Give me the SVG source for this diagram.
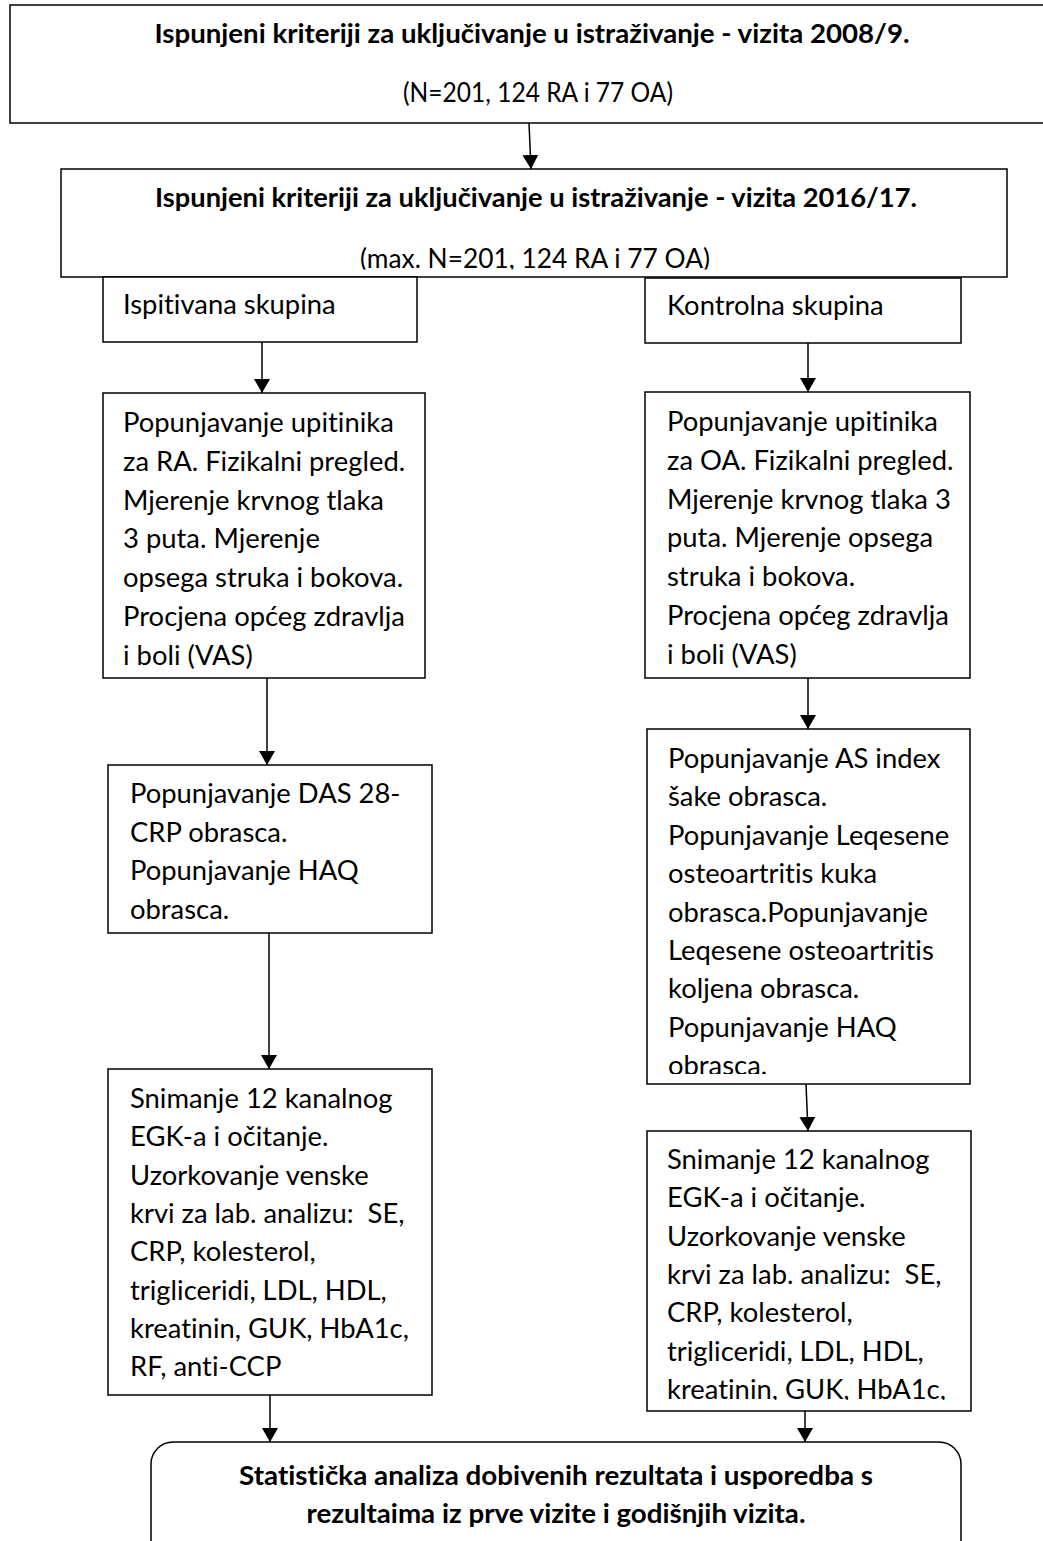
<svg xmlns="http://www.w3.org/2000/svg" width="1043" height="1541" viewBox="0 0 1043 1541">
<style>
  .box { fill: #fff; stroke: #000; stroke-width: 1.5; }
  .t { font-family: Lato, "Liberation Sans", sans-serif; font-size: 27.4px; fill: #000; font-variant-ligatures: none; font-feature-settings: "liga" 0, "clig" 0, "dlig" 0; white-space: pre; }
  .b { font-family: Lato, "Liberation Sans", sans-serif; font-size: 27px; font-weight: bold; fill: #000; font-variant-ligatures: none; font-feature-settings: "liga" 0, "clig" 0, "dlig" 0; }
  .c { text-anchor: middle; }
  .conn { stroke: #000; stroke-width: 1.5; fill: none; marker-end: url(#arr); }
</style>
<defs>
  <marker id="arr" markerUnits="userSpaceOnUse" markerWidth="16" markerHeight="16" refX="14" refY="8" orient="auto">
    <path d="M0,0 L14,8 L0,16 z" fill="#000"/>
  </marker>
  <clipPath id="clipB2"><rect x="61" y="169" width="946" height="100.5"/></clipPath>
  <clipPath id="clipAS"><rect x="647" y="729" width="323" height="345"/></clipPath>
  <clipPath id="clipER"><rect x="647" y="1131" width="325" height="269"/></clipPath>
</defs>
<rect width="1043" height="1541" fill="#fff"/>

<g id="connectors">
  <line class="conn" x1="529" y1="123" x2="531" y2="169"/>
  <line class="conn" x1="262" y1="342" x2="262" y2="393"/>
  <line class="conn" x1="808" y1="343" x2="808" y2="392"/>
  <line class="conn" x1="267" y1="678" x2="267" y2="765"/>
  <line class="conn" x1="808" y1="678" x2="808" y2="729"/>
  <line class="conn" x1="269" y1="933" x2="269" y2="1069"/>
  <line class="conn" x1="806" y1="1084" x2="808" y2="1131"/>
  <line class="conn" x1="270" y1="1395" x2="270" y2="1442"/>
  <line class="conn" x1="805" y1="1411" x2="805" y2="1442"/>
</g>

<g id="visit2008">
  <rect class="box" x="10" y="5" width="1045" height="118"/>
  <text class="b c" x="532" y="43" textLength="755" lengthAdjust="spacingAndGlyphs">Ispunjeni kriteriji za uključivanje u istraživanje - vizita 2008/9.</text>
  <text class="t c" x="538" y="102" textLength="270" lengthAdjust="spacingAndGlyphs">(N=201, 124 RA i 77 OA)</text>
</g>

<g id="visit2016">
  <rect class="box" x="61" y="169" width="946" height="108"/>
  <text class="b c" x="536" y="207" textLength="762" lengthAdjust="spacingAndGlyphs">Ispunjeni kriteriji za uključivanje u istraživanje - vizita 2016/17.</text>
  <g clip-path="url(#clipB2)">
    <text class="t c" x="535" y="268" textLength="350" lengthAdjust="spacingAndGlyphs">(max. N=201, 124 RA i 77 OA)</text>
  </g>
</g>

<g id="ispitivana">
  <rect class="box" x="103" y="277" width="314" height="65"/>
  <text class="t" x="123" y="314">Ispitivana skupina</text>
</g>

<g id="kontrolna">
  <rect class="box" x="645" y="278" width="316" height="65"/>
  <text class="t" x="667" y="315">Kontrolna skupina</text>
</g>

<g id="ra-pregled">
  <rect class="box" x="103" y="393" width="322" height="285"/>
  <text class="t" x="123" y="432">Popunjavanje upitinika</text>
  <text class="t" x="123" y="470.8">za RA. Fizikalni pregled.</text>
  <text class="t" x="123" y="509.6">Mjerenje krvnog tlaka</text>
  <text class="t" x="123" y="548.4">3 puta. Mjerenje</text>
  <text class="t" x="123" y="587.2">opsega struka i bokova.</text>
  <text class="t" x="123" y="626">Procjena općeg zdravlja</text>
  <text class="t" x="123" y="664.8">i boli (VAS)</text>
</g>

<g id="oa-pregled">
  <rect class="box" x="645" y="392" width="325" height="286"/>
  <text class="t" x="667" y="431">Popunjavanje upitinika</text>
  <text class="t" x="667" y="469.8">za OA. Fizikalni pregled.</text>
  <text class="t" x="667" y="508.6">Mjerenje krvnog tlaka 3</text>
  <text class="t" x="667" y="547.4">puta. Mjerenje opsega</text>
  <text class="t" x="667" y="586.2">struka i bokova.</text>
  <text class="t" x="667" y="625">Procjena općeg zdravlja</text>
  <text class="t" x="667" y="663.8">i boli (VAS)</text>
</g>

<g id="das28">
  <rect class="box" x="108" y="765" width="324" height="168"/>
  <text class="t" x="130" y="803">Popunjavanje DAS 28-</text>
  <text class="t" x="130" y="841.5">CRP obrasca.</text>
  <text class="t" x="130" y="880">Popunjavanje HAQ</text>
  <text class="t" x="130" y="918.5">obrasca.</text>
</g>

<g id="as-index">
  <rect class="box" x="647" y="729" width="323" height="355"/>
  <g clip-path="url(#clipAS)">
    <text class="t" x="668" y="768">Popunjavanje AS index</text>
    <text class="t" x="668" y="806.4">šake obrasca.</text>
    <text class="t" x="668" y="844.8">Popunjavanje Leqesene</text>
    <text class="t" x="668" y="883.2">osteoartritis kuka</text>
    <text class="t" x="668" y="921.6">obrasca.Popunjavanje</text>
    <text class="t" x="668" y="960">Leqesene osteoartritis</text>
    <text class="t" x="668" y="998.4">koljena obrasca.</text>
    <text class="t" x="668" y="1036.8">Popunjavanje HAQ</text>
    <text class="t" x="668" y="1075.2">obrasca.</text>
  </g>
</g>

<g id="egk-ra">
  <rect class="box" x="108" y="1069" width="324" height="326"/>
  <text class="t" x="130" y="1108">Snimanje 12 kanalnog</text>
  <text class="t" x="130" y="1146.3">EGK-a i očitanje.</text>
  <text class="t" x="130" y="1184.6">Uzorkovanje venske</text>
  <text class="t" x="130" y="1222.9" xml:space="preserve">krvi za lab. analizu:  SE,</text>
  <text class="t" x="130" y="1261.2">CRP, kolesterol,</text>
  <text class="t" x="130" y="1299.5">trigliceridi, LDL, HDL,</text>
  <text class="t" x="130" y="1337.8">kreatinin, GUK, HbA1c,</text>
  <text class="t" x="130" y="1376.1">RF, anti-CCP</text>
</g>

<g id="egk-oa">
  <rect class="box" x="647" y="1131" width="324" height="280"/>
  <g clip-path="url(#clipER)">
    <text class="t" x="667" y="1169">Snimanje 12 kanalnog</text>
    <text class="t" x="667" y="1207.3">EGK-a i očitanje.</text>
    <text class="t" x="667" y="1245.6">Uzorkovanje venske</text>
    <text class="t" x="667" y="1283.9" xml:space="preserve">krvi za lab. analizu:  SE,</text>
    <text class="t" x="667" y="1322.2">CRP, kolesterol,</text>
    <text class="t" x="667" y="1360.5">trigliceridi, LDL, HDL,</text>
    <text class="t" x="667" y="1398.8">kreatinin, GUK, HbA1c,</text>
  </g>
</g>

<g id="statistika">
  <rect class="box" x="151" y="1442" width="810" height="140" rx="22" ry="22"/>
  <text class="b c" x="556" y="1485" textLength="634" lengthAdjust="spacingAndGlyphs">Statistička analiza dobivenih rezultata i usporedba s</text>
  <text class="b c" x="556" y="1523" textLength="499" lengthAdjust="spacingAndGlyphs">rezultaima iz prve vizite i godišnjih vizita.</text>
</g>
</svg>
